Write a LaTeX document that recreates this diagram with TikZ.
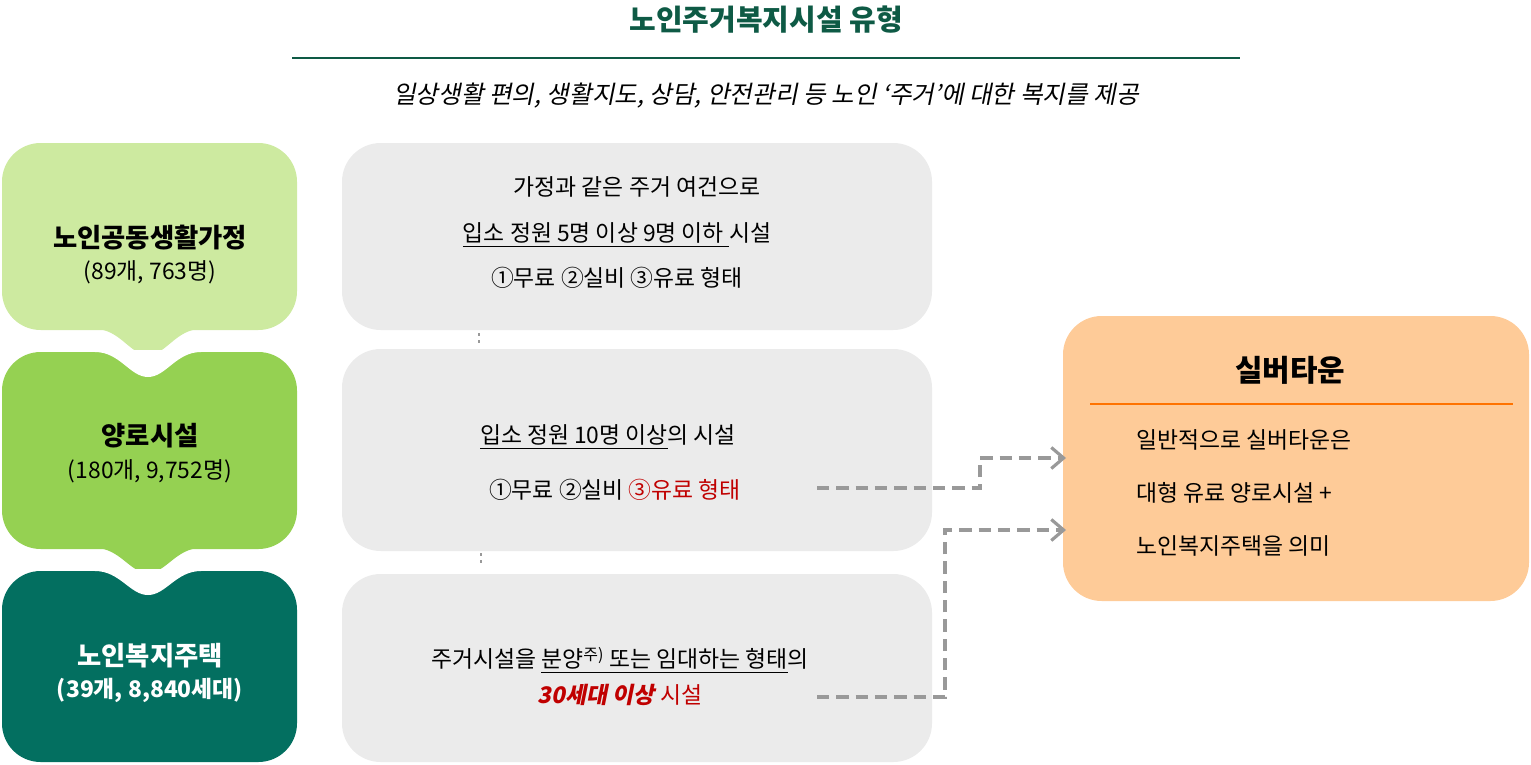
\documentclass[tikz,border=0pt]{standalone}
\usepackage{fontspec}
\setmainfont{Noto Sans CJK KR}
\newfontfamily\slanted[FakeSlant=0.2]{Noto Sans CJK KR}
\usetikzlibrary{arrows.meta}
\definecolor{vertclair}{HTML}{CDEAA0}
\definecolor{vertmoyen}{HTML}{95D152}
\definecolor{vertfonce}{HTML}{036F60}
\definecolor{titrevert}{HTML}{0E5A45}
\definecolor{gris}{HTML}{EBEBEB}
\definecolor{orangeclair}{HTML}{FECB98}
\definecolor{rouge}{HTML}{C00000}

\tikzstyle{boite} = [rounded corners=22]
\tikzstyle{titre} = [font=\fontsize{15}{18}\selectfont\bfseries]
\tikzstyle{ligne} = [font=\fontsize{13}{16}\selectfont]
\tikzstyle{fleche} = [draw=gray!80, line width=1.8pt, dash pattern=on 7pt off 4pt, -{Straight Barb[length=7pt,width=12pt]}]

\begin{document}
\begin{tikzpicture}[x=0.02cm, y=-0.02cm]
    \useasboundingbox (0,0) rectangle (1531,764);

    % titre
    \node [font=\fontsize{16.5}{20}\selectfont\bfseries, text=titrevert] (T) at (766,20) {노인주거복지시설 유형};
    \draw [titrevert, line width=1.2pt] (292,58) -- (1240,58);
    \node [ligne, font=\fontsize{14}{17}\selectfont\slanted] (ST) at (766,96) {일상생활 편의, 생활지도, 상담, 안전관리 등 노인 ‘주거’에 대한 복지를 제공};

    %-------------------------------------------------------------
    \fill [boite, vertclair] (2,143) rectangle (297,330);
    \fill [vertclair] (95,329) .. controls (120,329) and (130,355) .. (148,355) .. controls (166,355) and (176,329) .. (201,329) -- cycle;
    \fill [boite, vertmoyen] (2,352) rectangle (297,549);
    \fill [vertmoyen] (95,548) .. controls (120,548) and (130,573) .. (148,573) .. controls (166,573) and (176,548) .. (201,548) -- cycle;
    \fill [boite, vertfonce] (2,571) rectangle (297,762);
    \fill [white] (90,350) -- (95,352) .. controls (120,352) and (130,377) .. (148,377) .. controls (166,377) and (176,352) .. (201,352) -- (206,350) -- cycle;
    \fill [white] (90,569) -- (95,571) .. controls (120,571) and (130,595) .. (148,595) .. controls (166,595) and (176,571) .. (201,571) -- (206,569) -- cycle;

    \node [titre] (A) at (150,238) {노인공동생활가정};
    \node [ligne] (A2) at (150,272) {(89개, 763명)};
    \node [titre] (B) at (150,436) {양로시설};
    \node [ligne] (B2) at (150,471) {(180개, 9,752명)};
    \node [titre, text=white] (C) at (150,656) {노인복지주택};
    \node [ligne, text=white, font=\fontsize{13}{16}\selectfont\bfseries] (C2) at (150,690) {(39개, 8,840세대)};

    %-------------------------------------------------------------
    \fill [boite, gris] (342,143) rectangle (932,330);
    \fill [boite, gris] (342,349) rectangle (932,551);
    \fill [boite, gris] (342,574) rectangle (932,762);
    \draw [gray!80, line width=1.2pt, dash pattern=on 1.5pt off 2.5pt] (479,333) -- (479,346);
    \draw [gray!80, line width=1.2pt, dash pattern=on 1.5pt off 2.5pt] (481,553) -- (481,566);

    \node [ligne] (G1) at (637,187) {가정과 같은 주거 여건으로};
    \node [ligne] (G2) at (617,235) {\underline{입소 정원 5명 이상 9명 이하 }시설};
    \node [ligne] (G3) at (617,278) {①무료 ②실비 ③유료 형태};
    \node [ligne] (G4) at (608,437) {\underline{입소 정원 10명 이상}의 시설};
    \node [ligne] (G5) at (615,490) {①무료 ②실비 \textcolor{rouge}{③유료 형태}};
    \node [ligne] (G6) at (620,660) {주거시설을 \underline{분양\textsuperscript{주)} 또는 임대하는 형태}의};
    \node [ligne] (G7) at (620,695) {\textcolor{rouge}{\bfseries\slanted 30세대 이상} \textcolor{rouge}{시설}};

    %-------------------------------------------------------------
    \fill [boite, orangeclair] (1063,316) rectangle (1529,601);
    \node [titre, font=\fontsize{17}{20}\selectfont\bfseries] (S) at (1290,370) {실버타운};
    \draw [orange!90!red, line width=1.2pt] (1090,404) -- (1513,404);
    \node [ligne, anchor=west] (S1) at (1130,440) {일반적으로 실버타운은};
    \node [ligne, anchor=west] (S2) at (1130,493) {대형 유료 양로시설 +};
    \node [ligne, anchor=west] (S3) at (1130,546) {노인복지주택을 의미};

    % fleches
    \coordinate (D1) at (817,488);
    \coordinate (D2) at (817,697);
    \draw [fleche] (D1) -- (980,488) -- (980,458) -- (1066,458);
    \draw [fleche] (D2) -- (945,697) -- (945,530) -- (1066,530);

\end{tikzpicture}
\end{document}
